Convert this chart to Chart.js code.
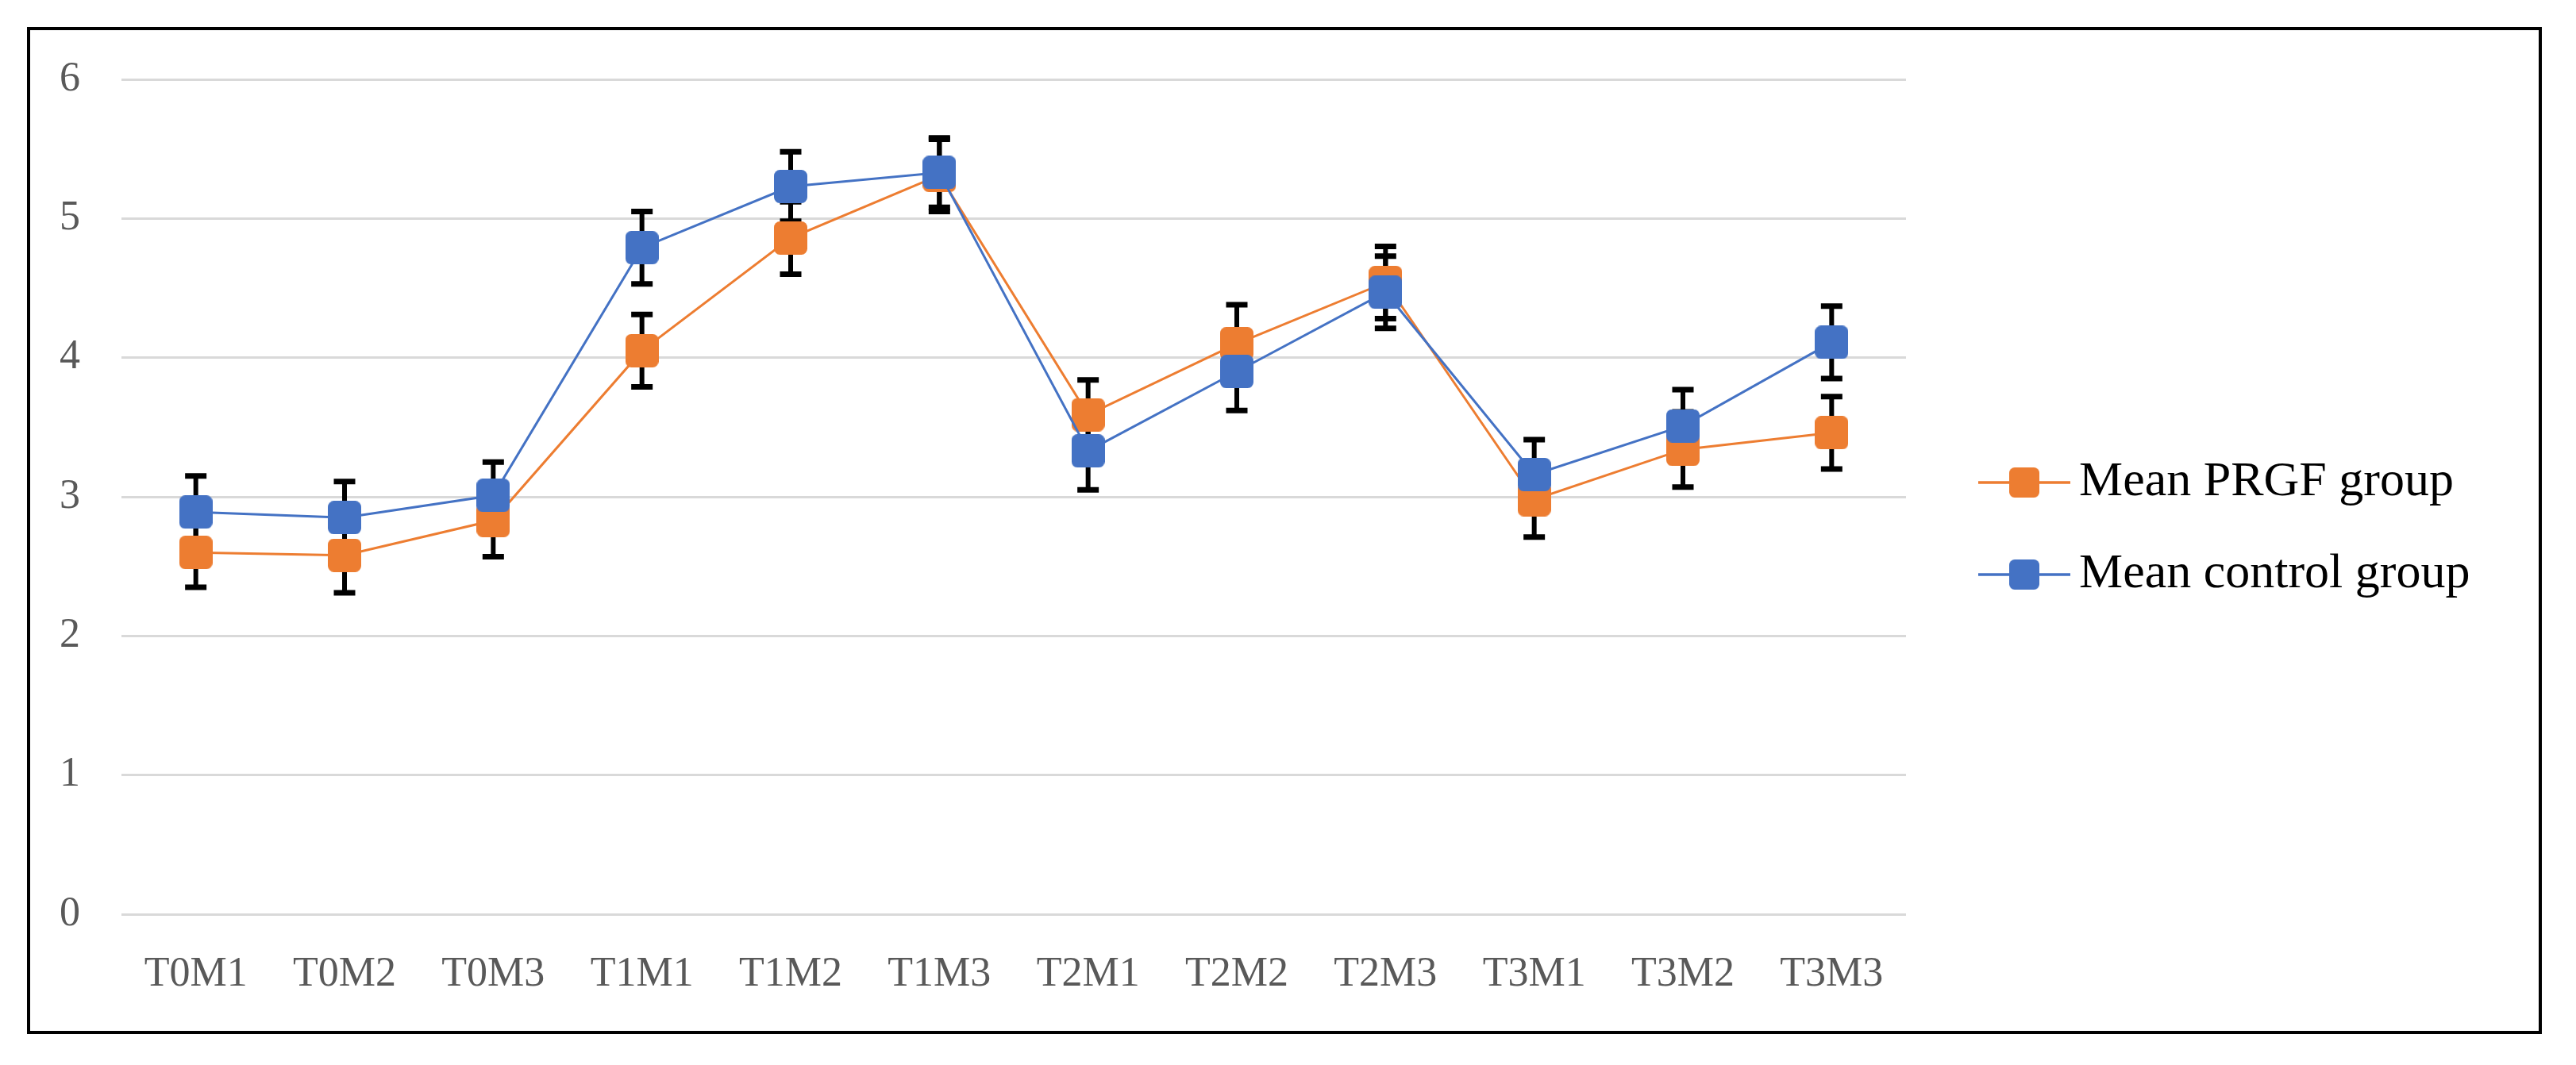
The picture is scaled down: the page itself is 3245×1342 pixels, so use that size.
<!DOCTYPE html>
<html>
<head>
<meta charset="utf-8">
<title>Mean PRGF group vs Mean control group</title>
<script src="https://cdn.jsdelivr.net/npm/chart.js@4.4.1/dist/chart.umd.min.js"></script>
<style>
  html, body { margin: 0; padding: 0; background: #fff; }
  #wrap { width: 3245px; height: 1342px; }
</style>
</head>
<body>
<div id="wrap"><canvas id="chart" width="3245" height="1342"></canvas></div>
<script>
// categories and values
var labels = ['T0M1', 'T0M2', 'T0M3', 'T1M1', 'T1M2', 'T1M3', 'T2M1', 'T2M2', 'T2M3', 'T3M1', 'T3M2', 'T3M3'];
var meanPRGF = [2.60, 2.58, 2.83, 4.05, 4.86, 5.31, 3.59, 4.10, 4.54, 2.98, 3.34, 3.46];
var meanControl = [2.89, 2.85, 3.01, 4.79, 5.23, 5.33, 3.33, 3.90, 4.47, 3.16, 3.51, 4.11];
var errPRGF = [0.25, 0.27, 0.26, 0.26, 0.26, 0.26, 0.25, 0.28, 0.26, 0.27, 0.27, 0.26];
var errControl = [0.26, 0.26, 0.24, 0.26, 0.25, 0.25, 0.28, 0.28, 0.26, 0.25, 0.26, 0.26];
var yTicks = [0, 1, 2, 3, 4, 5, 6];

var orange = '#ED7D31';
var blue = '#4472C4';
var fontName = '"Liberation Serif", "Times New Roman", serif';

// square marker with slightly rounded corners, like the Excel one
function squareMarker(color, size) {
    var c = document.createElement('canvas');
    c.width = size;
    c.height = size;
    var g = c.getContext('2d');
    g.fillStyle = color;
    g.beginPath();
    g.roundRect(0, 0, size, size, size * 0.18);
    g.fill();
    return c;
}

// black error bars, drawn under the lines and markers
var errorBars = {
    id: 'errorBars',
    beforeDatasetsDraw: function(chart) {
        var ctx = chart.ctx;
        var y = chart.scales.y;
        chart.data.datasets.forEach(function(ds, i) {
            var meta = chart.getDatasetMeta(i);
            meta.data.forEach(function(pt, j) {
                var top = y.getPixelForValue(ds.data[j] + ds.errors[j]);
                var bot = y.getPixelForValue(ds.data[j] - ds.errors[j]);
                ctx.save();
                ctx.strokeStyle = '#000';
                ctx.lineWidth = 6;
                ctx.beginPath();
                ctx.moveTo(pt.x, top);
                ctx.lineTo(pt.x, bot);
                ctx.stroke();
                ctx.lineWidth = 7;
                ctx.beginPath();
                ctx.moveTo(pt.x - 13.5, top);
                ctx.lineTo(pt.x + 13.5, top);
                ctx.moveTo(pt.x - 13.5, bot);
                ctx.lineTo(pt.x + 13.5, bot);
                ctx.stroke();
                ctx.restore();
            });
        });
    }
};

// legend on the right (line + marker + label) and the outer frame
var sideLegend = {
    id: 'sideLegend',
    afterDraw: function(chart) {
        var ctx = chart.ctx;
        var x0 = chart.chartArea.right + 91;
        var y0 = 608;
        chart.data.datasets.forEach(function(ds, i) {
            var yy = y0 + i * 116;
            ctx.save();
            ctx.strokeStyle = ds.borderColor;
            ctx.lineWidth = 3.3;
            ctx.beginPath();
            ctx.moveTo(x0, yy);
            ctx.lineTo(x0 + 116, yy);
            ctx.stroke();
            ctx.drawImage(ds.pointStyle, x0 + 58 - 19, yy - 19, 38, 38);
            ctx.fillStyle = '#000';
            ctx.font = '62px ' + fontName;
            ctx.textBaseline = 'middle';
            ctx.textAlign = 'left';
            ctx.fillText(ds.label, x0 + 127, yy);
            ctx.restore();
        });

        ctx.save();
        ctx.strokeStyle = '#000';
        ctx.lineWidth = 4;
        ctx.strokeRect(36, 36, 3164, 1265);
        ctx.restore();
    }
};

var ctx = document.getElementById('chart').getContext('2d');
var chart = new Chart(ctx, {
    type: 'line',
    data: {
        labels: labels,
        datasets: [{
            label: 'Mean PRGF group',
            data: meanPRGF,
            errors: errPRGF,
            borderColor: orange,
            backgroundColor: orange,
            borderWidth: 3,
            pointStyle: squareMarker(orange, 42),
            pointRadius: 21,
            tension: 0,
            order: 2
        }, {
            label: 'Mean control group',
            data: meanControl,
            errors: errControl,
            borderColor: blue,
            backgroundColor: blue,
            borderWidth: 3,
            pointStyle: squareMarker(blue, 42),
            pointRadius: 21,
            tension: 0,
            order: 1
        }]
    },
    options: {
        responsive: false,
        animation: false,
        devicePixelRatio: 1,
        layout: {
            padding: { left: 0, top: 100, right: 844, bottom: 0 }
        },
        plugins: {
            legend: { display: false },
            tooltip: { enabled: false }
        },
        scales: {
            x: {
                type: 'category',
                offset: true,
                grid: { display: false, drawTicks: false },
                border: { display: false },
                ticks: {
                    color: '#595959',
                    font: { family: fontName, size: 52 },
                    padding: 45,
                    autoSkip: false,
                    maxRotation: 0
                },
                afterFit: function(scale) { scale.height = 190; }
            },
            y: {
                min: yTicks[0],
                max: yTicks[yTicks.length - 1],
                grid: { color: '#d9d9d9', lineWidth: 3, drawTicks: false },
                border: { display: false },
                ticks: {
                    stepSize: 1,
                    color: '#595959',
                    font: { family: fontName, size: 52 },
                    padding: 52
                },
                afterBuildTicks: function(scale) {
                    scale.ticks = yTicks.map(function(v) { return { value: v }; });
                },
                afterFit: function(scale) { scale.width = 153; }
            }
        }
    },
    plugins: [errorBars, sideLegend]
});
</script>
</body>
</html>
